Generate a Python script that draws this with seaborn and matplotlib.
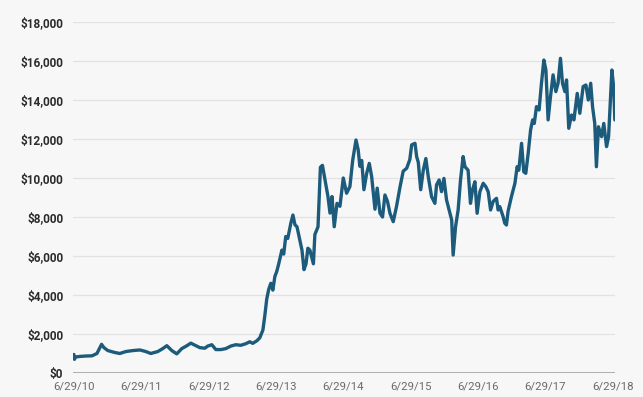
import matplotlib
matplotlib.use("Agg")
import matplotlib.pyplot as plt
import pandas as pd
import seaborn as sns

dates = [
    "2010-06-29", "2010-07-02", "2010-07-08", "2010-08-01", "2010-09-02", "2010-10-05",
    "2010-11-01", "2010-11-26", "2010-12-09", "2010-12-30", "2011-02-06", "2011-03-05",
    "2011-04-07", "2011-05-15", "2011-06-22", "2011-07-24", "2011-08-20", "2011-09-27",
    "2011-10-24", "2011-11-15", "2011-12-12", "2012-01-08", "2012-02-04", "2012-03-03",
    "2012-03-24", "2012-04-20", "2012-05-12", "2012-06-08", "2012-06-24", "2012-07-16",
    "2012-08-07", "2012-09-03", "2012-09-30", "2012-10-27", "2012-11-23", "2012-12-20",
    "2013-01-16", "2013-02-07", "2013-02-23", "2013-03-17", "2013-04-02", "2013-04-19",
    "2013-04-29", "2013-05-10", "2013-05-21", "2013-06-01", "2013-06-12", "2013-06-23",
    "2013-07-03", "2013-07-14", "2013-07-31", "2013-08-10", "2013-08-21", "2013-09-01",
    "2013-09-18", "2013-09-29", "2013-10-10", "2013-10-21", "2013-11-06", "2013-11-17",
    "2013-11-28", "2013-12-09", "2013-12-19", "2013-12-30", "2014-01-10", "2014-01-18",
    "2014-01-26", "2014-02-12", "2014-02-25", "2014-03-08", "2014-03-22", "2014-04-07",
    "2014-04-18", "2014-04-29", "2014-05-11", "2014-05-26", "2014-06-11", "2014-06-29",
    "2014-07-17", "2014-08-04", "2014-08-19", "2014-09-06", "2014-09-18", "2014-09-27",
    "2014-10-07", "2014-10-19", "2014-11-03", "2014-11-17", "2014-11-30", "2014-12-18",
    "2014-12-30", "2015-01-14", "2015-01-28", "2015-02-10", "2015-02-24", "2015-03-09",
    "2015-03-27", "2015-04-14", "2015-05-02", "2015-05-20", "2015-06-08", "2015-06-25",
    "2015-07-05", "2015-07-23", "2015-08-01", "2015-08-10", "2015-08-23", "2015-09-06",
    "2015-09-20", "2015-10-03", "2015-10-21", "2015-11-08", "2015-11-17", "2015-12-01",
    "2015-12-14", "2015-12-27", "2016-01-10", "2016-01-24", "2016-02-07", "2016-02-15",
    "2016-02-28", "2016-03-13", "2016-03-26", "2016-04-09", "2016-04-19", "2016-05-06",
    "2016-05-19", "2016-05-30", "2016-06-12", "2016-06-24", "2016-07-09", "2016-07-27",
    "2016-08-10", "2016-08-23", "2016-09-05", "2016-09-19", "2016-10-07", "2016-10-16",
    "2016-10-25", "2016-11-12", "2016-11-21", "2016-11-30", "2016-12-09", "2016-12-27",
    "2017-01-15", "2017-01-27", "2017-02-05", "2017-02-20", "2017-03-04", "2017-03-15",
    "2017-03-28", "2017-04-10", "2017-04-21", "2017-04-30", "2017-05-12", "2017-05-26",
    "2017-06-08", "2017-06-21", "2017-07-02", "2017-07-14", "2017-07-27", "2017-08-10",
    "2017-08-25", "2017-09-06", "2017-09-19", "2017-09-30", "2017-10-13", "2017-10-22",
    "2017-11-03", "2017-11-18", "2017-12-01", "2017-12-19", "2018-01-02", "2018-01-20",
    "2018-02-04", "2018-02-17", "2018-03-02", "2018-03-12", "2018-03-24", "2018-04-02",
    "2018-04-13", "2018-04-30", "2018-05-12", "2018-05-27", "2018-06-07", "2018-06-18",
    "2018-06-25", "2018-07-05", "2018-07-11",
]

values = [
    950, 700, 820, 850, 870, 880,
    1000, 1470, 1300, 1150, 1050, 1000,
    1100, 1150, 1180, 1100, 1000, 1100,
    1250, 1400, 1150, 980, 1250, 1400,
    1530, 1400, 1300, 1270, 1380, 1450,
    1200, 1200, 1250, 1380, 1450, 1420,
    1500, 1600, 1520, 1650, 1800, 2200,
    2900, 3800, 4300, 4600, 4250, 4950,
    5200, 5600, 6300, 6100, 7000, 6900,
    7700, 8100, 7600, 7500, 6800, 6300,
    5300, 5600, 6400, 6300, 5900, 5600,
    7100, 7500, 10550, 10650, 9900, 9050,
    8200, 9050, 7500, 8700, 8550, 10000,
    9220, 9560, 10900, 11950, 11440, 10600,
    10900, 9400, 10240, 10750, 10070, 8400,
    9480, 8200, 8000, 9130, 8800, 8200,
    7760, 8550, 9500, 10350, 10500, 10950,
    11700, 11780, 11100, 10800, 9400, 10400,
    11000, 10070, 9040, 8700, 9650, 9900,
    9300, 9980, 8880, 8360, 7850, 6050,
    7500, 8360, 9900, 11100, 10580, 10400,
    8700, 9390, 9810, 8190, 9300, 9730,
    9560, 9300, 8360, 8800, 8960, 8360,
    8530, 8020, 7680, 7590, 8300, 9040,
    9730, 10580, 10400, 11780, 10320, 10240,
    11270, 12460, 12980, 12800, 13660, 13490,
    14860, 16050, 15540, 12980, 14180, 15290,
    14430, 14860, 16140, 14860, 14430, 15030,
    12550, 13230, 12980, 14340, 13320, 14690,
    14770, 14000, 14860, 13660, 12800, 10580,
    12630, 12120, 12800, 11610, 12120, 14170,
    15540, 14600, 12980,
]

tick_dates = ["2010-06-29", "2011-06-29", "2012-06-29", "2013-06-29", "2014-06-29",
              "2015-06-29", "2016-06-29", "2017-06-29", "2018-06-29"]
tick_labels = ["6/29/10", "6/29/11", "6/29/12", "6/29/13", "6/29/14",
               "6/29/15", "6/29/16", "6/29/17", "6/29/18"]
y_ticks = [0, 2000, 4000, 6000, 8000, 10000, 12000, 14000, 16000, 18000]

df = pd.DataFrame({"date": pd.to_datetime(dates), "value": values})

bg = "#f7f7f7"
sns.set_theme(style="white", rc={"axes.facecolor": bg, "figure.facecolor": bg})
plt.rcParams["font.family"] = ["Roboto", "DejaVu Sans"]

fig = plt.figure(figsize=(6.43, 3.97), dpi=100)
ax = fig.add_axes([0.1135, 0.0605, 0.843, 0.884])

for yv in y_ticks[1:]:
    ax.axhline(yv, color="#e2e2e2", lw=0.9, zorder=0)
ax.axhline(0, color="#a8a8a8", lw=1.3, zorder=1)

sns.lineplot(data=df, x="date", y="value", ax=ax, color="#1c5b7b", lw=2.4, zorder=3)

ax.set_ylim(0, 18000)
ax.set_xlim(pd.Timestamp("2010-06-24"), pd.Timestamp("2018-07-12"))
ax.set_yticks(y_ticks)
ax.set_yticklabels([f"${v:,.0f}" for v in y_ticks], fontsize=8.5, fontweight="bold", color="#2b2b2b")
ax.set_xticks(pd.to_datetime(tick_dates))
ax.set_xticklabels(tick_labels, fontsize=8.2, color="#6a6a6a")
ax.tick_params(axis="y", length=0, pad=7)
ax.tick_params(axis="x", length=0, pad=6)
ax.set_xlabel("")
ax.set_ylabel("")
for s in ax.spines.values():
    s.set_visible(False)

fig.savefig("out.png", dpi=100, facecolor=bg)
